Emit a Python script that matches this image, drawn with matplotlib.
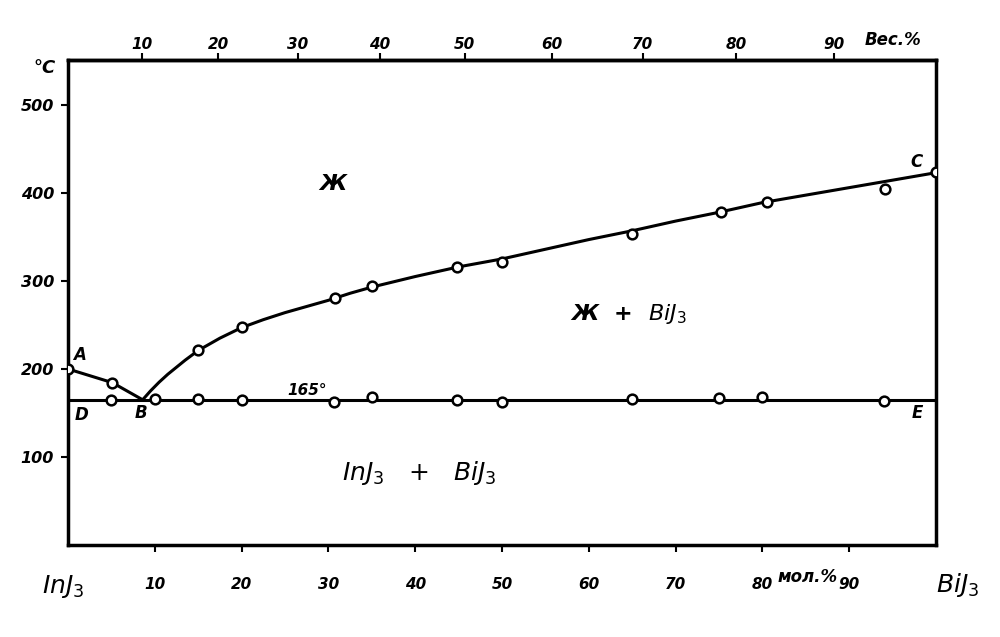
import matplotlib
matplotlib.use("Agg")
import matplotlib.pyplot as plt

# Experimental points (mol.% BiJ3, temperature °C)
liq_x = [0, 5.1, 15, 20, 30.8, 35, 44.8, 50, 65, 75.2, 80.5, 94.1, 100]
liq_t = [200, 184, 222, 248, 281, 294, 316, 321, 353, 378, 390, 404, 424]
sol_x = [5, 10, 15, 20, 30.7, 35, 44.8, 50, 65, 75, 80, 94]
sol_t = [165, 166, 166, 165, 163, 168, 165, 163, 166, 167, 168, 164]

# Lines of the diagram
ab_x = [0, 5.1, 8.6]
ab_t = [200, 184.5, 165]
bc_x = [8.6, 9.5, 10.5, 11.5, 12.5, 13.5, 15, 17.5, 20, 22.5, 25, 27.5, 30, 32.5, 35, 40,
        45, 50, 55, 60, 65, 70, 75, 80, 85, 90, 95, 100]
bc_t = [165, 175, 185, 194, 202, 210, 221, 235, 247, 256, 264, 271, 278, 286, 293, 305,
        316, 325, 336, 347, 357, 368, 378, 389, 397.5, 406, 414.5, 423]
eut_t = 165

# Axis ticks
mol_ticks = [10, 20, 30, 40, 50, 60, 70, 80, 90]
wt_ticks_pos = [8.5, 17.3, 26.5, 35.9, 45.7, 55.8, 66.2, 77.0, 88.3]
wt_labels = ["10", "20", "30", "40", "50", "60", "70", "80", "90"]
t_ticks = [100, 200, 300, 400, 500]

fp = dict(family="DejaVu Sans", style="italic", weight="bold")

fig = plt.figure(figsize=(10, 6.37), dpi=100)
ax = fig.add_axes([0.068, 0.1444, 0.868, 0.7614])
ax.set_xlim(0, 100)
ax.set_ylim(0, 551)

lw = 2.2
ax.plot(ab_x, ab_t, color="black", lw=lw, zorder=2, solid_joinstyle="round")
ax.plot(bc_x, bc_t, color="black", lw=lw, zorder=2, solid_joinstyle="round")
ax.plot([0, 100], [eut_t, eut_t], color="black", lw=lw, zorder=2)
ax.plot(liq_x, liq_t, "o", ms=7, mfc="white", mec="black", mew=1.8, ls="none", zorder=3)
ax.plot(sol_x, sol_t, "o", ms=7, mfc="white", mec="black", mew=1.8, ls="none", zorder=3)

for s in ax.spines.values():
    s.set_linewidth(2.5)

ax.set_xticks(mol_ticks)
ax.set_xticklabels([str(v) for v in mol_ticks], fontsize=11, **fp)
ax.tick_params(axis="x", direction="out", length=5, width=1.5, pad=18)
ax.set_yticks(t_ticks)
ax.set_yticklabels([str(v) for v in t_ticks], fontsize=11.5, **fp)
ax.tick_params(axis="y", direction="out", length=5, width=1.5, pad=5)

sec = ax.secondary_xaxis("top")
sec.set_xticks(wt_ticks_pos)
sec.set_xticklabels(wt_labels, fontsize=11, **fp)
sec.tick_params(direction="out", length=5, width=1.5, pad=1)
sec.spines["top"].set_linewidth(2.5)

# axis titles
fig.text(0.045, 0.893, "°C", fontsize=13, ha="center", va="center", **fp)
fig.text(0.893, 0.937, "Вес.%", fontsize=12, ha="center", va="center", **fp)
fig.text(0.808, 0.094, "мол.%", fontsize=12, ha="center", va="center", **fp)
fig.text(0.063, 0.080, "$\\mathit{InJ_3}$", fontsize=18, ha="center", va="center")
fig.text(0.958, 0.082, "$\\mathit{BiJ_3}$", fontsize=18, ha="center", va="center")

# region and point labels
ax.text(30.5, 410, "Ж", fontsize=16, ha="center", va="center", **fp)
ax.text(64.5, 262, "Ж  +  $\\mathit{BiJ_3}$", fontsize=16, ha="center", va="center", **fp)
ax.text(40.5, 82, "$\\mathit{InJ_3}$   +   $\\mathit{BiJ_3}$", fontsize=18, ha="center", va="center")
ax.text(27.5, 176, "165°", fontsize=11, ha="center", va="center", **fp)
ax.text(1.3, 216, "A", fontsize=12, ha="center", va="center", **fp)
ax.text(8.4, 150, "B", fontsize=12, ha="center", va="center", **fp)
ax.text(97.8, 435, "C", fontsize=12, ha="center", va="center", **fp)
ax.text(1.6, 148, "D", fontsize=12, ha="center", va="center", **fp)
ax.text(97.8, 150, "E", fontsize=12, ha="center", va="center", **fp)

fig.savefig("out.png", dpi=100)
